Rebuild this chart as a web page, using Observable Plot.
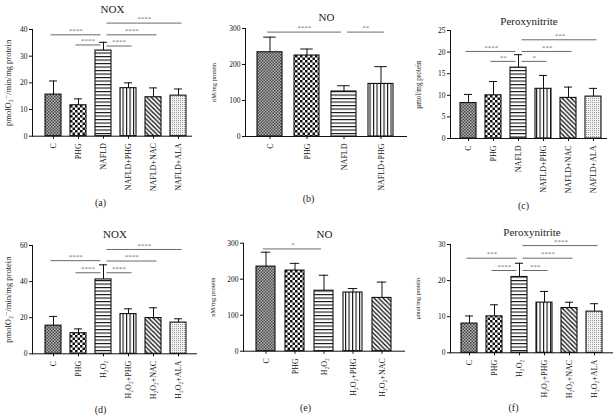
<!DOCTYPE html>
<html><head><meta charset="utf-8">
<script src="https://cdn.jsdelivr.net/npm/d3@7"></script>
<script src="https://cdn.jsdelivr.net/npm/@observablehq/plot@0.6"></script>
<style>
html,body{margin:0;padding:0;background:#fff;}
#root{position:relative;width:614px;height:419px;overflow:hidden;background:#fff;}
.panel{position:absolute;}
.panel svg{overflow:visible;display:block;}
</style></head><body>
<svg width="0" height="0" style="position:absolute">
<defs>
 <pattern id="patC" width="3" height="3" patternUnits="userSpaceOnUse">
   <rect width="3" height="3" fill="#b0b0b0"/>
   <rect width="1.5" height="1.5" fill="#4a4a4a"/>
   <rect x="1.5" y="1.5" width="1.5" height="1.5" fill="#4a4a4a"/>
 </pattern>
 <pattern id="patPHG" width="5" height="5" patternUnits="userSpaceOnUse">
   <rect width="5" height="5" fill="#fff"/>
   <rect width="2.5" height="2.5" fill="#111"/>
   <rect x="2.5" y="2.5" width="2.5" height="2.5" fill="#111"/>
 </pattern>
 <pattern id="patH" width="4" height="3.5" patternUnits="userSpaceOnUse">
   <rect width="4" height="3.5" fill="#fff"/>
   <rect y="0" width="4" height="1.1" fill="#111"/>
 </pattern>
 <pattern id="patV" width="3.5" height="4" patternUnits="userSpaceOnUse">
   <rect width="3.5" height="4" fill="#fff"/>
   <rect x="0" width="1.1" height="4" fill="#111"/>
 </pattern>
 <pattern id="patD" width="4.5" height="4.5" patternUnits="userSpaceOnUse">
   <rect width="4.5" height="4.5" fill="#fff"/>
   <path d="M-1,-1 L5.5,5.5 M-1,3.5 L1,5.5 M3.5,-1 L5.5,1" stroke="#111" stroke-width="1.3"/>
 </pattern>
 <pattern id="patDot" width="2" height="2" patternUnits="userSpaceOnUse">
   <rect width="2" height="2" fill="#f2f2f2"/>
   <rect width="1" height="1" fill="#9a9a9a"/>
 </pattern>
</defs>
</svg>
<div id="root"></div>
<script>
// ---------- data ----------
const catsNafld = ["C", "PHG", "NAFLD", "NAFLD+PHG", "NAFLD+NAC", "NAFLD+ALA"];
const catsNafldNo = ["C", "PHG", "NAFLD", "NAFLD+PHG"];
const catsH2o2 = ["C", "PHG", "H₂O₂", "H₂O₂+PHG", "H₂O₂+NAC", "H₂O₂+ALA"];
const catsH2o2No = ["C", "PHG", "H₂O₂", "H₂O₂+PHG", "H₂O₂+NAC"];

const noxNafldMean = [15.6, 11.6, 32.1, 18.0, 14.6, 15.2];
const noxNafldErr  = [20.7, 14.0, 35.2, 20.0, 18.1, 17.7];
const noNafldMean  = [234, 225, 125, 146];
const noNafldErr   = [276, 243, 141, 194];
const peroNafldMean = [8.2, 10.0, 16.4, 11.5, 9.4, 9.7];
const peroNafldErr  = [10.2, 13.2, 19.4, 14.6, 11.9, 11.6];

const noxH2o2Mean = [15.6, 11.4, 41.2, 22.0, 19.8, 17.3];
const noxH2o2Err  = [20.7, 13.8, 49.3, 24.9, 25.5, 19.4];
const noH2o2Mean  = [235, 224, 168, 163, 148];
const noH2o2Err   = [275, 244, 211, 174, 192];
const peroH2o2Mean = [8.1, 10.1, 21.0, 13.9, 12.4, 11.4];
const peroH2o2Err  = [10.2, 13.3, 24.8, 17.0, 14.0, 13.6];

// significance: [fromIndex, toIndex, yValue, stars, side]
const sigNoxNafld = [[0,2,38,"****","L"],[1,2,34.2,"****","L"],[2,3,33.8,"****","R"],[2,4,38,"****","R"],[2,5,42.4,"****","R"]];
const sigNoNafld = [[0,2,290,"****","L"],[2,3,290,"**","R"]];
const sigPeroNafld = [[0,2,20.15,"****","L"],[1,2,17.85,"**","L"],[2,3,17.85,"*","R"],[2,4,20.15,"***","R"],[2,5,22.85,"***","R"]];
const sigNoxH2o2 = [[0,2,51.6,"****","L"],[1,2,44.9,"****","L"],[2,3,44.9,"****","R"],[2,4,51.4,"****","R"],[2,5,57.8,"****","R"]];
const sigNoH2o2 = [[0,2,284,"*","L"]];
const sigPeroH2o2 = [[0,2,26.2,"***","L"],[1,2,22.8,"****","L"],[2,3,22.8,"***","R"],[2,4,26.2,"****","R"],[2,5,29.7,"****","R"]];

const ticksNox1 = [0,10,20,30,40];
const ticksNo = [0,100,200,300];
const ticksPero1 = [0,5,10,15,20,25];
const ticksNox2 = [0,20,40,60];
const ticksPero2 = [0,10,20,30];

const PATS = ["patC","patPHG","patH","patV","patD","patDot"];
const FONT = "'Liberation Serif', 'DejaVu Serif', serif";

// ---------- layout ----------
const panels = [
 {left:0, top:0, W:205, H:210, ax:32, axEnd:192, yTop:29, y0:135.7, ymax:40, ticks:ticksNox1, c0:52, cN:178, bw:16,
  cats:catsNafld, means:noxNafldMean, errs:noxNafldErr, sig:sigNoxNafld, title:"NOX", titleY:5, lab:"(a)", labX:100, labY:205,
  ylab:"pmolO₂⁻/min/mg protein", ylabX:8, ylabSize:8.5},
 {left:205, top:0, W:205, H:210, ax:40, axEnd:202, yTop:28, y0:136, ymax:300, ticks:ticksNo, c0:63.5, cN:175.5, bw:25,
  cats:catsNafldNo, means:noNafldMean, errs:noNafldErr, sig:sigNoNafld, title:"NO", titleY:13, lab:"(b)", labX:103, labY:201,
  ylab:"nM/mg protein", ylabX:8, ylabSize:6.5},
 {left:410, top:0, W:204, H:210, ax:40, axEnd:197, yTop:30, y0:138, ymax:25, ticks:ticksPero1, c0:56.3, cN:184.7, bw:16,
  cats:catsNafld, means:peroNafldMean, errs:peroNafldErr, sig:sigPeroNafld, title:"Peroxynitrite", titleY:17, lab:"(c)", labX:113, labY:208,
  ylab:"μmol/mg protein", ylabX:8, ylabSize:7.2},
 {left:0, top:210, W:205, H:209, ax:32, axEnd:197, yTop:35, y0:143.3, ymax:60, ticks:ticksNox2, c0:52, cN:178, bw:16,
  cats:catsH2o2, means:noxH2o2Mean, errs:noxH2o2Err, sig:sigNoxH2o2, title:"NOX", titleY:20, lab:"(d)", labX:100, labY:202,
  ylab:"pmolO₂⁻/min/mg protein", ylabX:8, ylabSize:8.5},
 {left:205, top:210, W:205, H:209, ax:38, axEnd:200, yTop:32.7, y0:140.7, ymax:300, ticks:ticksNo, c0:58.7, cN:178.7, bw:19.3,
  cats:catsH2o2No, means:noH2o2Mean, errs:noH2o2Err, sig:sigNoH2o2, title:"NO", titleY:20, lab:"(e)", labX:100, labY:200,
  ylab:"nM/mg protein", ylabX:7, ylabSize:6.5},
 {left:410, top:210, W:204, H:209, ax:40, axEnd:203, yTop:34, y0:142.3, ymax:30, ticks:ticksPero2, c0:57, cN:185, bw:16,
  cats:catsH2o2, means:peroH2o2Mean, errs:peroH2o2Err, sig:sigPeroH2o2, title:"Peroxynitrite", titleY:18, lab:"(f)", labX:103, labY:200,
  ylab:"μmol/mg protein", ylabX:8, ylabSize:6.2}
];

const root = document.getElementById("root");
for (const p of panels) {
  const n = p.cats.length;
  const step = (p.cN - p.c0) / (n - 1);
  const rows = p.cats.map((c, i) => ({cat: c, mean: p.means[i], err: p.errs[i], fill: `url(#${PATS[i]})`}));
  const sig = p.sig.map(([a, b, y, t, side]) => ({x1: p.cats[a], x2: p.cats[b], y, t, side, span: b - a}));
  const mB = p.H - p.y0;
  const frameCx = (p.ax + p.axEnd) / 2;
  const cap = p.bw * 0.5;
  const marks = [
    Plot.barY(rows, {x: "cat", y: "mean", fill: "fill", stroke: "#111", strokeWidth: 1.1}),
    Plot.ruleX(rows, {x: "cat", y1: "mean", y2: "err", stroke: "#111", strokeWidth: 1}),
    Plot.tickY(rows, {x: "cat", y: "err", stroke: "#111", strokeWidth: 1, insetLeft: (p.bw - cap) / 2, insetRight: (p.bw - cap) / 2}),
    Plot.ruleY([0], {stroke: "#111", strokeWidth: 1}),
    Plot.frame({anchor: "left", stroke: "#111", strokeWidth: 1}),
    Plot.axisY({ticks: p.ticks, tickSize: 3, tickPadding: 2, label: null, fontSize: 7.5, tickFormat: d3.format("d")}),
    Plot.axisX({tickRotate: -90, tickSize: 3, tickPadding: 4, label: null, fontSize: 8}),
    Plot.link(sig.filter(s => s.side === "L"), {x1: "x1", x2: "x2", y1: "y", y2: "y", stroke: "#444", strokeWidth: 0.8, dx: -3}),
    Plot.link(sig.filter(s => s.side === "R"), {x1: "x1", x2: "x2", y1: "y", y2: "y", stroke: "#444", strokeWidth: 0.8, dx: 3}),
    ...sig.map(s => Plot.text([s], {x: "x1", y: "y", text: "t", fill: "#777", fontSize: 7,
        dx: s.span * step / 2 + (s.side === "L" ? -3 : 3), dy: -4})),
    Plot.text([p.title], {frameAnchor: "top", dy: p.titleY - p.yTop, fontSize: 11, fill: "#222"}),
    Plot.text([p.lab], {frameAnchor: "bottom", dx: p.labX - frameCx, dy: p.labY - p.y0, fontSize: 10, fill: "#222"}),
    Plot.text([p.ylab], {frameAnchor: "left", textAnchor: "middle", rotate: -90, dx: p.ylabX - p.ax, fontSize: p.ylabSize, fill: "#222"})
  ];
  const svg = Plot.plot({
    width: p.W, height: p.H,
    marginLeft: p.ax, marginRight: p.W - p.axEnd, marginTop: p.yTop, marginBottom: mB,
    style: {fontFamily: FONT, fontSize: "7px", background: "transparent", overflow: "visible", color: "#111"},
    x: {type: "band", domain: p.cats, range: [p.c0 - p.bw / 2, p.cN + p.bw / 2], paddingInner: 1 - p.bw / step, paddingOuter: 0, align: 0.5},
    y: {domain: [0, p.ymax], nice: false},
    color: {type: "identity"},
    marks
  });
  const div = document.createElement("div");
  div.className = "panel";
  div.style.left = p.left + "px";
  div.style.top = p.top + "px";
  div.appendChild(svg);
  root.appendChild(div);
}
</script>
</body></html>
